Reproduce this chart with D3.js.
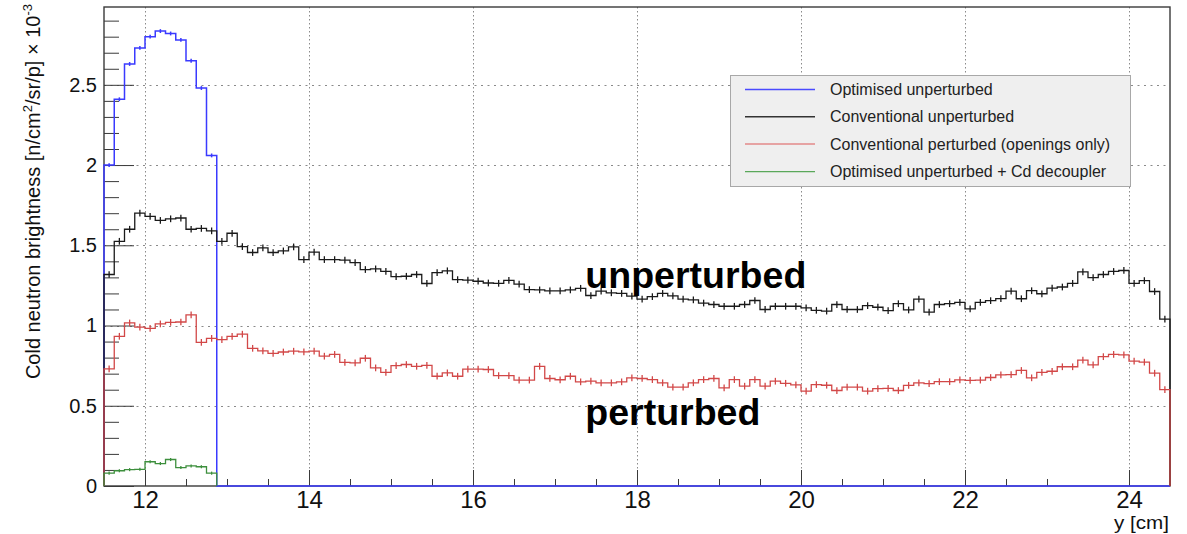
<!DOCTYPE html>
<html>
<head>
<meta charset="utf-8">
<script src="https://cdn.jsdelivr.net/npm/d3@7"></script>
<style>
  html, body { margin: 0; padding: 0; background: #ffffff; }
  svg { display: block; font-family: "Liberation Sans", Arial, Helvetica, sans-serif; }
</style>
</head>
<body>
<svg id="chart" width="1187" height="534"></svg>
<script>
// Histogram binning: 0.125 cm bins starting at y = 11.5 cm
const binStart = 11.5;
const binWidth = 0.125;

// Optimised moderator, unperturbed (non-zero bins only; later bins are empty)
const optimisedUnperturbed = [2.00, 2.41, 2.63, 2.73, 2.80, 2.835, 2.82, 2.78, 2.65, 2.48, 2.06];

// Optimised moderator, unperturbed, with Cd decoupler
const optimisedCd = [0.080, 0.095, 0.102, 0.104, 0.151, 0.140, 0.165, 0.115, 0.125, 0.120, 0.080];

// Conventional moderator, unperturbed
const conventionalUnperturbed = [
  1.318, 1.525, 1.600, 1.700, 1.680, 1.655, 1.665, 1.670, 1.600, 1.605,
  1.590, 1.525, 1.575, 1.492, 1.455, 1.484, 1.455, 1.465, 1.490, 1.411,
  1.457, 1.411, 1.411, 1.407, 1.392, 1.349, 1.353, 1.337, 1.305, 1.307,
  1.318, 1.262, 1.330, 1.341, 1.286, 1.283, 1.276, 1.265, 1.263, 1.281,
  1.258, 1.224, 1.222, 1.216, 1.216, 1.222, 1.232, 1.187, 1.214, 1.204,
  1.200, 1.183, 1.165, 1.180, 1.200, 1.185, 1.165, 1.160, 1.140, 1.131,
  1.120, 1.120, 1.131, 1.156, 1.100, 1.120, 1.120, 1.120, 1.110, 1.095,
  1.090, 1.131, 1.100, 1.100, 1.124, 1.114, 1.093, 1.136, 1.097, 1.164,
  1.084, 1.131, 1.136, 1.144, 1.104, 1.144, 1.155, 1.168, 1.215, 1.167,
  1.217, 1.198, 1.233, 1.240, 1.263, 1.334, 1.298, 1.318, 1.337, 1.343,
  1.263, 1.280, 1.212, 1.040
];

// Conventional moderator, perturbed (openings only)
const conventionalPerturbed = [
  0.730, 0.933, 1.016, 0.990, 0.982, 1.010, 1.020, 1.022, 1.066, 0.895,
  0.920, 0.912, 0.933, 0.946, 0.858, 0.842, 0.826, 0.835, 0.840, 0.836,
  0.840, 0.809, 0.820, 0.770, 0.767, 0.796, 0.736, 0.708, 0.750, 0.757,
  0.746, 0.752, 0.684, 0.705, 0.684, 0.728, 0.728, 0.726, 0.688, 0.688,
  0.660, 0.660, 0.746, 0.670, 0.662, 0.684, 0.649, 0.653, 0.643, 0.643,
  0.649, 0.674, 0.670, 0.663, 0.643, 0.616, 0.616, 0.643, 0.663, 0.670,
  0.611, 0.663, 0.622, 0.663, 0.622, 0.653, 0.640, 0.630, 0.591, 0.632,
  0.628, 0.595, 0.616, 0.616, 0.591, 0.607, 0.608, 0.595, 0.627, 0.643,
  0.638, 0.650, 0.650, 0.661, 0.658, 0.660, 0.676, 0.692, 0.694, 0.720,
  0.674, 0.708, 0.715, 0.743, 0.743, 0.785, 0.755, 0.806, 0.820, 0.817,
  0.778, 0.772, 0.703, 0.601
];

// Per-bin statistical uncertainty drawn as vertical error bars
const errConventional = 0.021;
const errOptimised = 0.012;

// Axis ticks and labels
const xMajorTicks = [12, 14, 16, 18, 20, 22, 24];
const yMajorTicks = [0, 0.5, 1, 1.5, 2, 2.5];

const legendEntries = [
  { label: "Optimised unperturbed", color: "#4a4aff" },
  { label: "Conventional unperturbed", color: "#333333" },
  { label: "Conventional perturbed (openings only)", color: "#e38a8a" },
  { label: "Optimised unperturbed + Cd decoupler", color: "#5aa85a" }
];

const annotations = [
  { text: "unperturbed", x: 17.37, y: 1.235, span: 221 },
  { text: "perturbed", x: 17.37, y: 0.383, span: 175 }
];

// ---------------------------------------------------------------------
const svg = d3.select("#chart");
const frame = { left: 104, right: 1170, top: 7, bottom: 486 };
const nBins = conventionalUnperturbed.length;
const xEnd = binStart + nBins * binWidth;

const x = d3.scaleLinear().domain([binStart, xEnd]).range([frame.left, frame.right]);
const y = d3.scaleLinear().domain([0, 2.985]).range([frame.bottom, frame.top]);

// Dotted grid at the major ticks
const grid = svg.append("g").attr("stroke", "#8a8a8a").attr("stroke-width", 1);
grid.selectAll("line.gx").data(xMajorTicks).join("line")
  .attr("x1", d => Math.round(x(d)) + 0.5).attr("x2", d => Math.round(x(d)) + 0.5)
  .attr("y1", frame.top).attr("y2", frame.bottom)
  .attr("stroke-dasharray", "1.5,2.5");
grid.selectAll("line.gy").data(yMajorTicks.filter(d => d > 0)).join("line")
  .attr("x1", frame.left).attr("x2", frame.right)
  .attr("y1", d => Math.round(y(d)) + 0.5).attr("y2", d => Math.round(y(d)) + 0.5)
  .attr("stroke-dasharray", "2,4.5");

// Legend box (drawn over the grid)
const legend = svg.append("g");
legend.append("rect")
  .attr("x", 730.5).attr("y", 75.5).attr("width", 400).attr("height", 111)
  .attr("fill", "#efefef").attr("stroke", "#a8a8a8").attr("stroke-width", 1);
const rowY = [89.5, 116.8, 144, 171.6];
legendEntries.forEach((e, i) => {
  legend.append("line")
    .attr("x1", 745).attr("x2", 815).attr("y1", rowY[i]).attr("y2", rowY[i])
    .attr("stroke", e.color).attr("stroke-width", 1.4);
  legend.append("text")
    .attr("x", 830).attr("y", rowY[i] + 5.5)
    .attr("font-size", 16).attr("fill", "#222")
    .text(e.label);
});

// Axes: ticks point inward, labels outside
const axisX = svg.append("g").attr("transform", `translate(0,${frame.bottom})`)
  .call(d3.axisBottom(x).tickValues(xMajorTicks).tickSize(-16).tickPadding(5)
    .tickFormat(d3.format("d")));
const xMinor = d3.range(23).map(i => 12 + i * 0.5).filter(v => v % 2 !== 0);
svg.append("g").attr("transform", `translate(0,${frame.bottom})`)
  .call(d3.axisBottom(x).tickValues(xMinor).tickSize(-7).tickFormat(""));

const axisY = svg.append("g").attr("transform", `translate(${frame.left},0)`)
  .call(d3.axisLeft(y).tickValues(yMajorTicks).tickSize(-30).tickPadding(7)
    .tickFormat(d => String(d)));
const yMinor = d3.range(1, 30).map(i => +(i * 0.1).toFixed(1)).filter(v => Math.abs(v * 2 - Math.round(v * 2)) > 1e-6);
svg.append("g").attr("transform", `translate(${frame.left},0)`)
  .call(d3.axisLeft(y).tickValues(yMinor).tickSize(-15).tickFormat(""));

svg.selectAll(".domain").remove();
svg.selectAll(".tick line").attr("stroke", "#3a3a3a").attr("stroke-width", 1);
axisX.selectAll(".tick text").attr("font-size", 24).attr("fill", "#111")
  .attr("font-family", "Liberation Sans, Arial, sans-serif");
axisY.selectAll(".tick text").attr("font-size", 20).attr("fill", "#111")
  .attr("font-family", "Liberation Sans, Arial, sans-serif");

// Frame
svg.append("rect")
  .attr("x", frame.left).attr("y", frame.top)
  .attr("width", frame.right - frame.left).attr("height", frame.bottom - frame.top)
  .attr("fill", "none").attr("stroke", "#3a3a3a").attr("stroke-width", 1.4);

// Histogram outline: step from 0, across every bin, back to 0
function stepPath(values, nTotal) {
  const p = d3.path();
  p.moveTo(x(binStart), y(0));
  for (let i = 0; i < nTotal; i++) {
    const v = i < values.length ? values[i] : 0;
    p.lineTo(x(binStart + i * binWidth), y(v));
    p.lineTo(x(binStart + (i + 1) * binWidth), y(v));
  }
  p.lineTo(x(binStart + nTotal * binWidth), y(0));
  return p.toString();
}

function drawHist(values, nTotal, color, err, width) {
  const g = svg.append("g");
  g.append("path").attr("d", stepPath(values, nTotal))
    .attr("fill", "none").attr("stroke", color).attr("stroke-width", width)
    .attr("stroke-linejoin", "miter");
  g.selectAll("line.err").data(values).join("line")
    .attr("x1", (d, i) => x(binStart + (i + 0.5) * binWidth))
    .attr("x2", (d, i) => x(binStart + (i + 0.5) * binWidth))
    .attr("y1", d => y(d + err)).attr("y2", d => y(d - err))
    .attr("stroke", color).attr("stroke-width", width);
}

drawHist(optimisedUnperturbed, nBins, "#3a3aff", errOptimised, 1.5);
drawHist(conventionalUnperturbed, nBins, "#1a1a1a", errConventional, 1.3);
drawHist(conventionalPerturbed, nBins, "#d24848", errConventional, 1.3);
drawHist(optimisedCd, optimisedCd.length, "#3d8f3d", errOptimised * 0.8, 1.3);

// Region annotations
svg.selectAll("text.note").data(annotations).join("text")
  .attr("class", "note")
  .attr("x", d => x(d.x)).attr("y", d => y(d.y))
  .attr("font-size", 36).attr("font-weight", "bold").attr("fill", "#000")
  .attr("textLength", d => d.span).attr("lengthAdjust", "spacingAndGlyphs")
  .text(d => d.text);

// Axis titles
svg.append("text")
  .attr("x", frame.right - 1).attr("y", 529)
  .attr("text-anchor", "end").attr("font-size", 18).attr("fill", "#111")
  .attr("textLength", 55).attr("lengthAdjust", "spacingAndGlyphs")
  .text("y [cm]");

const yTitle = svg.append("text")
  .attr("transform", "translate(40,4) rotate(-90)")
  .attr("text-anchor", "end").attr("font-size", 20).attr("fill", "#111");
yTitle.append("tspan").text("Cold neutron brightness [n/cm");
yTitle.append("tspan").attr("font-size", 13).attr("dy", -8).text("2");
yTitle.append("tspan").attr("dy", 8).text("/sr/p] \u00d7 10");
yTitle.append("tspan").attr("font-size", 13).attr("dy", -8).text("-3");
</script>
</body>
</html>
